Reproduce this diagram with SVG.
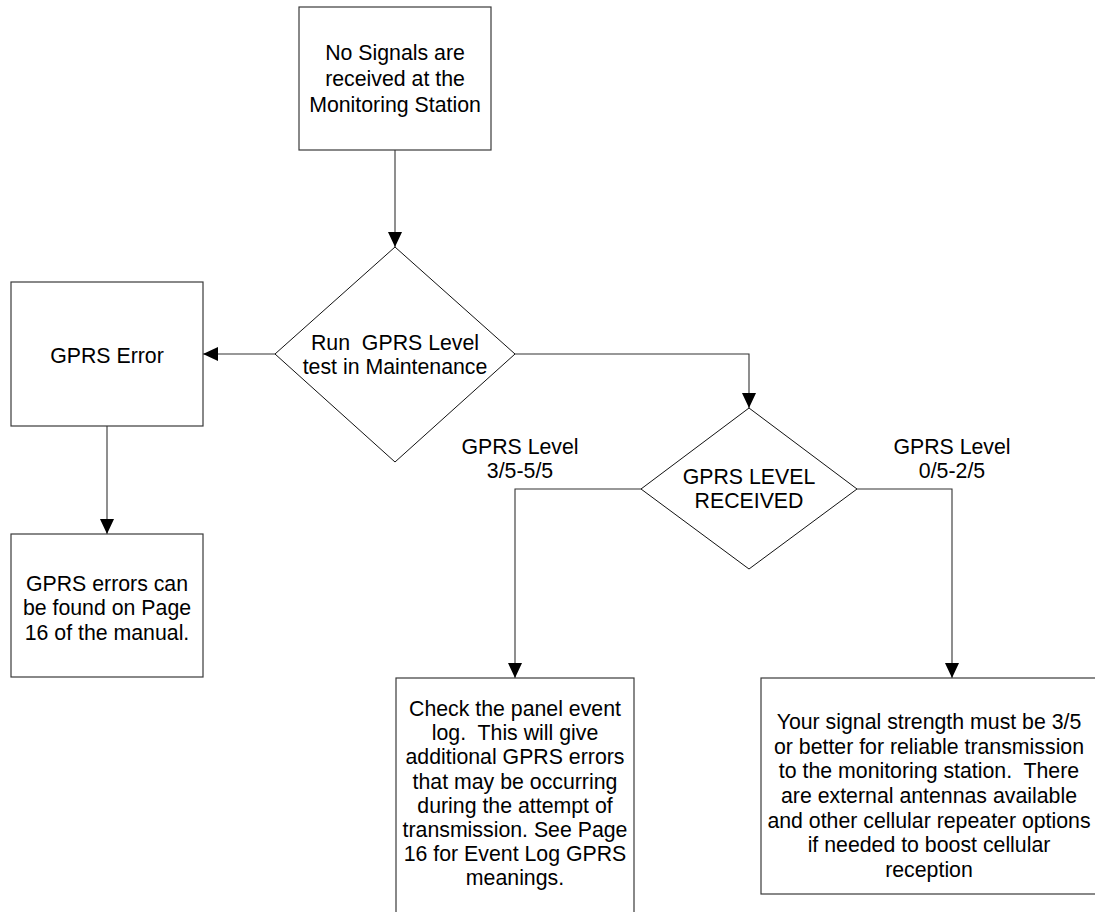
<svg xmlns="http://www.w3.org/2000/svg" width="1095" height="912" viewBox="0 0 1095 912">
<style>
.box{fill:#fff;stroke:#3a3a3a;stroke-width:1.2}
.dia{fill:#fff;stroke:#111;stroke-width:1}
.con{fill:none;stroke:#333;stroke-width:1.1}
text{font-family:"Liberation Sans",Arial,sans-serif;font-size:21.3px;fill:#000;text-anchor:middle;white-space:pre}
</style>
<defs>
<marker id="arr" markerWidth="15" markerHeight="15" refX="15" refY="7.5" orient="auto" markerUnits="userSpaceOnUse">
<path d="M0,0.5 L15,7.5 L0,14.5 z" fill="#000"/>
</marker>
</defs>
<rect width="1095" height="912" fill="#fff"/>
<g id="connectors">
<path class="con" d="M395,150 V247" marker-end="url(#arr)"/>
<path class="con" d="M275,354 H203" marker-end="url(#arr)"/>
<path class="con" d="M107,426 V534" marker-end="url(#arr)"/>
<path class="con" d="M515,354 H749 V408" marker-end="url(#arr)"/>
<path class="con" d="M641,489 H515 V678" marker-end="url(#arr)"/>
<path class="con" d="M857,489 H952 V678" marker-end="url(#arr)"/>
<text x="520" y="454">GPRS Level</text>
<text x="520" y="478">3/5-5/5</text>
<text x="952" y="454">GPRS Level</text>
<text x="952" y="478">0/5-2/5</text>
</g>
<g id="start">
<rect class="box" x="299" y="7" width="192" height="143"/>
<text x="395" y="60">No Signals are</text>
<text x="395" y="86">received at the</text>
<text x="395" y="112">Monitoring Station</text>
</g>
<g id="run-test">
<polygon class="dia" points="395,247 515,354 395,462 275,354"/>
<text x="395" y="350">Run  GPRS Level</text>
<text x="395" y="374">test in Maintenance</text>
</g>
<g id="gprs-error">
<rect class="box" x="11" y="282" width="192" height="144"/>
<text x="107" y="363">GPRS Error</text>
</g>
<g id="errors-page">
<rect class="box" x="11" y="534" width="192" height="143"/>
<text x="107" y="591">GPRS errors can</text>
<text x="107" y="615">be found on Page</text>
<text x="107" y="640">16 of the manual.</text>
</g>
<g id="level-received">
<polygon class="dia" points="749,408 857,489 749,569 641,489"/>
<text x="749" y="484">GPRS LEVEL</text>
<text x="749" y="508">RECEIVED</text>
</g>
<g id="check-log">
<rect class="box" x="396" y="678" width="238" height="250"/>
<text x="515" y="716">Check the panel event</text>
<text x="515" y="740">log.  This will give</text>
<text x="515" y="764">additional GPRS errors</text>
<text x="515" y="789">that may be occurring</text>
<text x="515" y="813">during the attempt of</text>
<text x="515" y="837">transmission. See Page</text>
<text x="515" y="861">16 for Event Log GPRS</text>
<text x="515" y="885">meanings.</text>
</g>
<g id="signal-strength">
<rect class="box" x="761" y="678" width="336" height="216"/>
<text x="929" y="729">Your signal strength must be 3/5</text>
<text x="929" y="754">or better for reliable transmission</text>
<text x="929" y="778">to the monitoring station.  There</text>
<text x="929" y="803">are external antennas available</text>
<text x="929" y="828">and other cellular repeater options</text>
<text x="929" y="852">if needed to boost cellular</text>
<text x="929" y="877">reception</text>
</g>
</svg>
